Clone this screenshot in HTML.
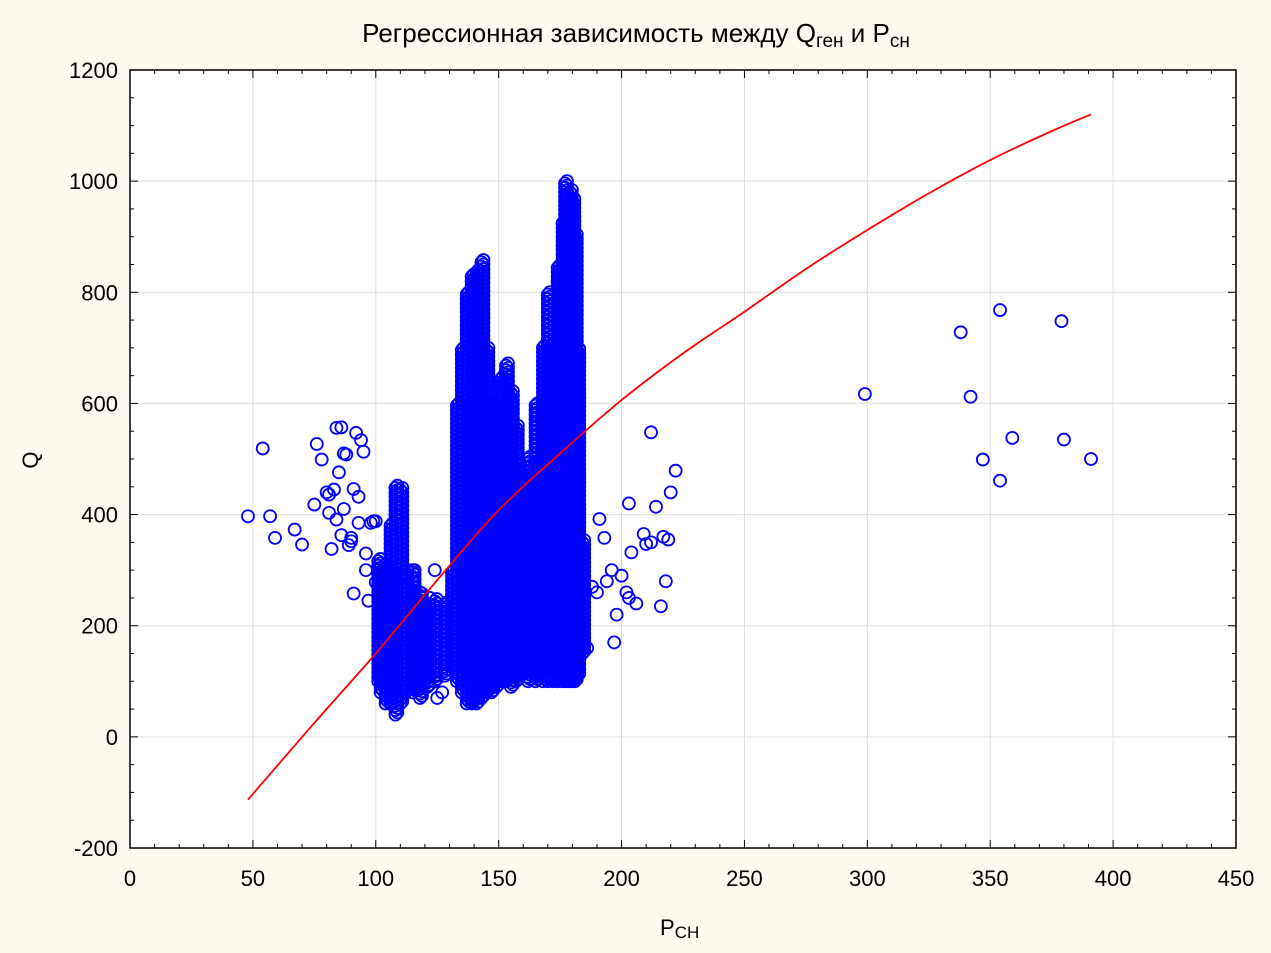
<!DOCTYPE html>
<html><head><meta charset="utf-8">
<style>
body{margin:0;background:#fffaf0;}
svg{display:block;font-family:"Liberation Sans",sans-serif;}
</style></head>
<body>
<svg id="chart" width="1271" height="953">
<rect x="0" y="0" width="1271" height="953" fill="#fffaf0"/>
<text x="636" y="42" text-anchor="middle" font-size="26" fill="#000">Регрессионная зависимость между Q<tspan font-size="19" dy="5">ген</tspan><tspan dy="-5"> и P</tspan><tspan font-size="19" dy="5">сн</tspan></text>
<text x="660" y="935" text-anchor="start" font-size="22">P<tspan font-size="17" dy="3">СН</tspan></text>
<text x="38" y="460" text-anchor="middle" font-size="22" transform="rotate(-90 38 460)">Q</text>
<g id="plot"></g>
</svg>
<script>
const xTicks=[0,50,100,150,200,250,300,350,400,450];
const yTicks=[-200,0,200,400,600,800,1000,1200];
const scatterP=[48,54,57,59,67,70,75,76,78,80,81,82,83,84,85,86,87,88,89,90,91,92,93,94,95,96,97,98,100,81,84,86,87,90,91,93,96,99,100,102,104,106,112,115,117,118,120,122,124,125,127,191,193,194,196,197,198,200,202,203,204,206,209,210,212,214,216,217,218,219,220,222,212,203,186,299,338,342,347,354,354,359,379,380,391,188,190];
const scatterQ=[397,519,397,358,373,346,418,527,499,440,403,338,445,556,476,557,410,508,345,358,446,547,432,534,513,300,245,385,388,436,391,363,510,352,258,385,330,388,278,320,310,300,290,300,90,260,230,250,300,70,80,392,358,280,300,170,220,290,260,420,332,240,365,347,548,414,235,360,280,355,440,479,350,250,160,617,728,612,499,768,461,538,748,535,500,270,260];
const colP=[101,102,104,106,108,110,112,115,118,121,124,128,131,133,135,137,139,141,143,145,147,149,151,153,155,157,159,162,165,168,170,172,174,176,177,178,179,180,181,182,184];
const colLo=[100,80,60,60,40,60,80,80,70,90,100,110,120,100,80,60,60,60,70,80,80,90,100,100,90,100,110,100,100,100,100,100,100,100,100,100,100,100,100,110,150];
const colHi=[320,300,300,380,450,450,300,300,260,240,250,240,300,600,700,800,830,840,860,700,600,500,650,670,620,560,480,500,600,700,800,560,850,930,1000,960,980,970,900,700,350];
const curveP=[48,75,100,125,150,175,200,225,250,275,300,325,350,375,391];
const curveQ=[-113,25,150,282,408,510,606,690,765,842,912,978,1038,1090,1120];

const X0=130,X1=1236,Y0=848,Y1=70;
const sx=v=>X0+(v-0)/(450-0)*(X1-X0);
const sy=v=>Y0-(v+200)/(1400)*(Y0-Y1);
const NS="http://www.w3.org/2000/svg";
const g=document.getElementById('plot');
function mk(t,a){const e=document.createElementNS(NS,t);for(const k in a)e.setAttribute(k,a[k]);g.appendChild(e);return e;}
mk('rect',{x:X0,y:Y1,width:X1-X0,height:Y0-Y1,fill:'#fff'});
xTicks.forEach(t=>{
 const l=mk('line',{x1:sx(t),x2:sx(t),y1:Y1,y2:Y0,stroke:'#ddd','stroke-width':1});
 
 
 const tx=mk('text',{x:sx(t),y:Y0+38,'text-anchor':'middle','font-size':22});
 tx.textContent=t;
 
 
});
yTicks.forEach(t=>{
 const l=mk('line',{x1:X0,x2:X1,y1:sy(t),y2:sy(t),stroke:'#ddd','stroke-width':1});
 
 
 const tx=mk('text',{x:X0-12,y:sy(t)+8,'text-anchor':'end','font-size':22});
 tx.textContent=t;
 
 
});
for(let v=0;v<=450;v+=10){const len=v%50===0?8:4;
 mk('line',{x1:sx(v),x2:sx(v),y1:Y0,y2:Y0-len,stroke:'#000'});
 mk('line',{x1:sx(v),x2:sx(v),y1:Y1,y2:Y1+len,stroke:'#000'});}
for(let v=-200;v<=1200;v+=50){const len=v%200===0?8:4;
 mk('line',{x1:X0,x2:X0+len,y1:sy(v),y2:sy(v),stroke:'#000'});
 mk('line',{x1:X1,x2:X1-len,y1:sy(v),y2:sy(v),stroke:'#000'});}
const pts=document.createElementNS(NS,'g');g.appendChild(pts);


function dot(p,q){const c=document.createElementNS(NS,'circle');c.setAttribute('cx',sx(p));c.setAttribute('cy',sy(q));c.setAttribute('r',6);c.setAttribute('fill','none');c.setAttribute('stroke','#0000ff');c.setAttribute('stroke-width',1.8);pts.appendChild(c);}
colP.forEach((p,i)=>{for(let q=colLo[i];q<=colHi[i];q+=8){dot(p,q);dot(p+0.8,q+4);}});
scatterP.forEach((p,i)=>dot(p,scatterQ[i]));
const P=curveP.map((p,i)=>[sx(p),sy(curveQ[i])]);
let d='M'+P[0][0]+','+P[0][1];
for(let i=0;i<P.length-1;i++){
 const p0=P[Math.max(i-1,0)],p1=P[i],p2=P[i+1],p3=P[Math.min(i+2,P.length-1)];
 const c1=[p1[0]+(p2[0]-p0[0])/6,p1[1]+(p2[1]-p0[1])/6];
 const c2=[p2[0]-(p3[0]-p1[0])/6,p2[1]-(p3[1]-p1[1])/6];
 d+=' C'+c1[0]+','+c1[1]+' '+c2[0]+','+c2[1]+' '+p2[0]+','+p2[1];
}
const path=mk('path',{d:d,fill:'none',stroke:'#ff0000','stroke-width':1.8});


mk('rect',{x:X0,y:Y1,width:X1-X0,height:Y0-Y1,fill:'none',stroke:'#000','stroke-width':1.5});
</script>
</body></html>
